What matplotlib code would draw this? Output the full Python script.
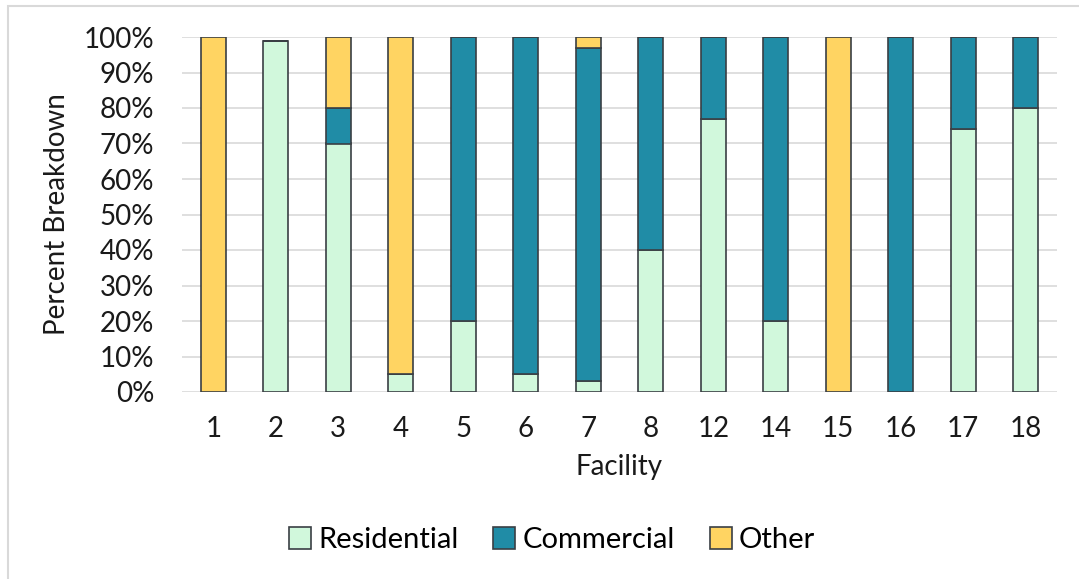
import numpy as np
import matplotlib.pyplot as plt
from matplotlib.patches import Rectangle
from matplotlib.ticker import PercentFormatter

plt.rcParams['font.family'] = ['Lato', 'DejaVu Sans']

facilities = ['1', '2', '3', '4', '5', '6', '7', '8', '12', '14', '15', '16', '17', '18']
residential = [0, 99, 70, 5, 20, 5, 3, 40, 77, 20, 0, 0, 74, 80]
commercial = [0, 0, 10, 0, 80, 95, 94, 60, 23, 80, 0, 100, 26, 20]
other = [100, 0, 20, 95, 0, 0, 3, 0, 0, 0, 100, 0, 0, 0]

colors = {'Residential': '#d1f8dc', 'Commercial': '#208ca6', 'Other': '#ffd462'}
edge = '#3a3f44'
txt = '#1a1a1a'

fig = plt.figure(figsize=(10.79, 5.79), dpi=100)
ax = fig.add_axes([182 / 1079, 1 - 392 / 579, 875 / 1079, 355 / 579])

# light frame around the chart area
fig.patches.append(Rectangle((8 / 1079, -0.1), 1.2, 1 - 6 / 579 + 0.1, transform=fig.transFigure,
                             fill=False, edgecolor='#d9d9d9', linewidth=1.5))

x = np.arange(len(facilities))
res = np.array(residential)
com = np.array(commercial)
oth = np.array(other)
w = 0.4
ax.bar(x, res, w, color=colors['Residential'], edgecolor=edge, linewidth=1.2, label='Residential', zorder=3)
ax.bar(x, com, w, bottom=res, color=colors['Commercial'], edgecolor=edge, linewidth=1.2, label='Commercial', zorder=3)
ax.bar(x, oth, w, bottom=res + com, color=colors['Other'], edgecolor=edge, linewidth=1.2, label='Other', zorder=3)

ax.set_xlim(-0.5, len(facilities) - 0.5)
ax.set_ylim(0, 100)
ax.set_yticks(np.arange(0, 101, 10))
ax.yaxis.set_major_formatter(PercentFormatter(decimals=0))
ax.set_xticks(x)
ax.set_xticklabels(facilities)
ax.tick_params(length=0, labelsize=20, colors=txt)
ax.tick_params(axis='x', pad=17)
ax.tick_params(axis='y', pad=20)
ax.grid(axis='y', color='#d9d9d9', linewidth=1.2, zorder=0)
for s in ax.spines.values():
    s.set_visible(False)

ax.set_xlabel('Facility', fontsize=20, color=txt, labelpad=9)
ax.set_ylabel('Percent Breakdown', fontsize=20, color=txt, labelpad=10)

fig.legend(loc='center', bbox_to_anchor=(552 / 1079, 1 - 540 / 579), ncol=3, frameon=False,
           fontsize=21, handlelength=0.75, handleheight=0.75, handletextpad=0.25, columnspacing=1.2)

fig.savefig('out.png', dpi=100)
